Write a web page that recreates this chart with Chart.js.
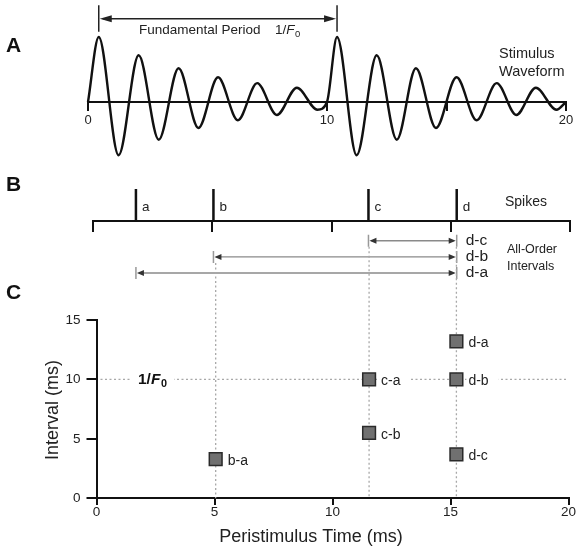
<!DOCTYPE html>
<html>
<head>
<meta charset="utf-8">
<script src="https://cdn.jsdelivr.net/npm/chart.js@4.4.1/dist/chart.umd.min.js"></script>
<style>
  body { margin:0; background:#fff; }
  #wrap { position:relative; width:579px; height:552px; }
  #wrap canvas { position:absolute; left:0; top:0; }
</style>
</head>
<body>
<div id="wrap">
  <canvas id="waveChart" width="579" height="552"></canvas>
  <canvas id="spikeChart" width="579" height="552"></canvas>
  <canvas id="intervalChart" width="579" height="552"></canvas>
</div>
<script>
'use strict';

// A: stimulus waveform, taken at its zero points, peaks and troughs
let waveTimes=[0,0.45,1.28,2.12,2.96,3.79,4.62,5.44,6.27,7.08,7.9,8.74,9.6,
               10,10.42,11.24,12.08,12.92,13.72,14.56,15.42,16.26,17.1,17.92,18.74,19.6,20];
let waveAmps=[0,1,-0.82,0.72,-0.58,0.52,-0.4,0.38,-0.28,0.29,-0.2,0.22,-0.12,
              0,1,-0.82,0.72,-0.58,0.52,-0.4,0.38,-0.28,0.29,-0.2,0.22,-0.12,0];
let waveTicks=[0,10,15,20];
let waveTickLabels=['0','10','','20'];
let periodStart=0.45;
let periodEnd=10.42;

// B: spike times (ms)
let spikeNames=['a','b','c','d'];
let spikeTimes=[1.8,5.05,11.55,15.25];
let intervalNames=['d-c','d-b','d-a'];
let intervalStart=['c','b','a'];
let intervalEnd=['d','d','d'];

// C: all-order intervals against peristimulus time
let pointNames=['b-a','c-a','c-b','d-a','d-b','d-c'];
let pointSpike=['b','c','c','d','d','d'];
let pointIntervals=[3.3,10,5.5,13.2,10,3.7];
let fundamentalPeriod=10;

let fontFamily="'Liberation Sans', Arial, Helvetica, sans-serif";
Chart.defaults.font.family=fontFamily;
Chart.defaults.color='#222';

function spikeTime(name)
{
    return spikeTimes[spikeNames.indexOf(name)];
}

function drawText(ctx,txt,x,y,size,opts)
{
    opts=opts||{};
    ctx.save();
    ctx.font=(opts.style||'normal')+' '+(opts.weight||'normal')+' '+size+'px '+fontFamily;
    ctx.fillStyle=opts.color||'#222';
    ctx.textAlign=opts.align||'left';
    ctx.textBaseline='middle';
    if(opts.rotate)
    {
        ctx.translate(x,y);
        ctx.rotate(opts.rotate);
        ctx.fillText(txt,0,0);
    }
    else
    {
        ctx.fillText(txt,x,y);
    }
    let w=ctx.measureText(txt).width;
    ctx.restore();
    return w;
}

// writes 1/F0 with italic F and subscript 0
function drawInverseF(ctx,x,y,size,weight,color)
{
    let w=drawText(ctx,'1/',x,y,size,{weight:weight,color:color});
    w+=drawText(ctx,'F',x+w,y,size,{weight:weight,style:'italic',color:color});
    w+=drawText(ctx,'0',x+w+0.5,y+size*0.32,size*0.7,{weight:weight,color:color});
    return w;
}

function arrowHead(ctx,x,y,dir,len,half)
{
    ctx.beginPath();
    ctx.moveTo(x,y);
    ctx.lineTo(x-dir*len,y-half);
    ctx.lineTo(x-dir*len,y+half);
    ctx.closePath();
    ctx.fill();
}

let commonOptions={
    responsive:false,
    animation:false,
    events:[],
    plugins:{legend:{display:false},tooltip:{enabled:false}}
};

// ---------- A ----------
let periodArrow={
    id:'periodArrow',
    afterDraw(chart)
    {
        let ctx=chart.ctx;
        let x=chart.scales.x;
        let y=chart.scales.y;
        let x1=x.getPixelForValue(periodStart);
        let x2=x.getPixelForValue(periodEnd);
        let yTop=y.getPixelForValue(1.49);
        let yBot=y.getPixelForValue(1.08);
        let yArr=y.getPixelForValue(1.28);
        ctx.save();
        ctx.strokeStyle='#222';
        ctx.fillStyle='#222';
        ctx.lineWidth=1.5;
        ctx.beginPath();
        ctx.moveTo(x1,yTop); ctx.lineTo(x1,yBot);
        ctx.moveTo(x2,yTop); ctx.lineTo(x2,yBot);
        ctx.moveTo(x1+4,yArr); ctx.lineTo(x2-4,yArr);
        ctx.stroke();
        arrowHead(ctx,x1+1,yArr,-1,12,3.5);
        arrowHead(ctx,x2-1,yArr,1,12,3.5);
        ctx.restore();

        drawText(ctx,'Fundamental Period',139,30,13.5);
        drawInverseF(ctx,275,30,13.5,'normal','#222');
        drawText(ctx,'Stimulus',499,54,14.5);
        drawText(ctx,'Waveform',499,72,14.5);
        drawText(ctx,'A',6,46,21,{weight:'bold',color:'#111'});
    }
};

let waveChart=new Chart(document.getElementById('waveChart'),{
    type:'line',
    data:{datasets:[{
        data:waveTimes.map((t,i)=>({x:t,y:waveAmps[i]})),
        borderColor:'#111',
        borderWidth:2.4,
        pointRadius:0,
        cubicInterpolationMode:'monotone',
        clip:false
    }]},
    options:Object.assign({},commonOptions,{
        layout:{padding:{left:88,right:13,top:37,bottom:385}},
        scales:{
            x:{
                type:'linear',min:0,max:20,position:{y:0},
                afterBuildTicks:(s)=>{s.ticks=waveTicks.map(v=>({value:v}));},
                border:{color:'#111',width:2},
                grid:{drawOnChartArea:false,color:'#111',lineWidth:2,tickLength:8},
                ticks:{autoSkip:false,maxRotation:0,padding:3,color:'#222',font:{size:13},
                    callback:(v)=>waveTickLabels[waveTicks.indexOf(v)]}
            },
            y:{min:-1,max:1,display:false}
        }
    }),
    plugins:[periodArrow]
});

// ---------- B ----------
let intervalRows=[-0.6,-1.1,-1.6];

let spikeMarks={
    id:'spikeMarks',
    afterDraw(chart)
    {
        let ctx=chart.ctx;
        let x=chart.scales.x;
        let y=chart.scales.y;
        let yLab=(y.getPixelForValue(0)+y.getPixelForValue(1))/2+2;
        spikeNames.forEach((n,i)=>{
            drawText(ctx,n,x.getPixelForValue(spikeTimes[i])+6,yLab,13.5);
        });

        ctx.save();
        for(let i=0;i<intervalNames.length;i++)
        {
            let x1=x.getPixelForValue(spikeTime(intervalStart[i]));
            let x2=x.getPixelForValue(spikeTime(intervalEnd[i]));
            let yr=y.getPixelForValue(intervalRows[i]);
            ctx.strokeStyle='#999';
            ctx.lineWidth=1.5;
            ctx.beginPath();
            ctx.moveTo(x1,yr-6); ctx.lineTo(x1,yr+6);
            ctx.moveTo(x2,yr-6); ctx.lineTo(x2,yr+6);
            ctx.stroke();
            ctx.strokeStyle='#8a8a8a';
            ctx.lineWidth=1.4;
            ctx.beginPath();
            ctx.moveTo(x1+3,yr); ctx.lineTo(x2-3,yr);
            ctx.stroke();
            ctx.fillStyle='#333';
            arrowHead(ctx,x1+1,yr,-1,7,3);
            arrowHead(ctx,x2-1,yr,1,7,3);
            drawText(ctx,intervalNames[i],x2+9,yr,15.5);
        }
        ctx.restore();

        drawText(ctx,'Spikes',505,202,14);
        drawText(ctx,'All-Order',507,250,12.5);
        drawText(ctx,'Intervals',507,267,12.5);
        drawText(ctx,'B',6,185,21,{weight:'bold',color:'#111'});
    }
};

let spikeData=[];
spikeTimes.forEach(t=>{
    spikeData.push({x:t,y:0},{x:t,y:1},{x:t,y:null});
});

let spikeChart=new Chart(document.getElementById('spikeChart'),{
    type:'line',
    data:{datasets:[{
        data:spikeData,
        borderColor:'#111',
        borderWidth:2.5,
        pointRadius:0,
        spanGaps:false,
        clip:false
    }]},
    options:Object.assign({},commonOptions,{
        layout:{padding:{left:93,right:9,top:189,bottom:266}},
        scales:{
            x:{
                type:'linear',min:0,max:20,position:{y:0},
                border:{color:'#111',width:2},
                grid:{drawOnChartArea:false,color:'#111',lineWidth:2,tickLength:10},
                ticks:{stepSize:5,autoSkip:false,callback:()=>''}
            },
            y:{min:-2,max:1,display:false}
        }
    }),
    plugins:[spikeMarks]
});

// ---------- C ----------
let guideLines={
    id:'guideLines',
    beforeDatasetsDraw(chart)
    {
        let ctx=chart.ctx;
        let x=chart.scales.x;
        let y=chart.scales.y;
        let by=spikeChart.scales.y;
        let y0=y.getPixelForValue(0);
        ctx.save();
        ctx.strokeStyle='#a8a8a8';
        ctx.lineWidth=1.3;
        ctx.setLineDash([2,2.5]);
        ctx.beginPath();
        // vertical guides from each interval start and end down to the axis
        ['b','c','d'].forEach(n=>{
            let rows=[];
            intervalNames.forEach((iv,i)=>{
                if(intervalStart[i]===n || intervalEnd[i]===n) rows.push(intervalRows[i]);
            });
            let top=by.getPixelForValue(Math.max(...rows))+6;
            let px=x.getPixelForValue(spikeTime(n));
            ctx.moveTo(px,top);
            ctx.lineTo(px,y0);
        });
        let yF=y.getPixelForValue(fundamentalPeriod);
        ctx.moveTo(x.getPixelForValue(0)+4,yF);
        ctx.lineTo(x.getPixelForValue(20),yF);
        ctx.stroke();
        ctx.restore();

        // label on the 1/F0 line, with a white gap behind it
        ctx.save();
        ctx.fillStyle='#fff';
        ctx.fillRect(131,yF-9,43,20);
        ctx.restore();
        drawInverseF(ctx,138,yF,15.5,'bold','#111');
    },
    afterDatasetsDraw(chart)
    {
        let ctx=chart.ctx;
        let x=chart.scales.x;
        let y=chart.scales.y;
        pointNames.forEach((n,i)=>{
            let px=x.getPixelForValue(spikeTime(pointSpike[i]))+12;
            let py=y.getPixelForValue(pointIntervals[i])+2;
            ctx.save();
            ctx.font='14px '+fontFamily;
            let w=ctx.measureText(n).width;
            ctx.fillStyle='#fff';
            ctx.fillRect(px-2,py-8,w+12,16);
            ctx.restore();
            drawText(ctx,n,px,py,14);
        });
        drawText(ctx,'Interval (ms)',53,410,18,{align:'center',rotate:-Math.PI/2});
        drawText(ctx,'Peristimulus Time (ms)',311,537,18,{align:'center'});
        drawText(ctx,'C',6,293,21,{weight:'bold',color:'#111'});
    }
};

let intervalChart=new Chart(document.getElementById('intervalChart'),{
    type:'scatter',
    data:{datasets:[{
        data:pointNames.map((n,i)=>({x:spikeTime(pointSpike[i]),y:pointIntervals[i]})),
        pointStyle:'rect',
        pointRadius:9,
        backgroundColor:'#707070',
        borderColor:'#2a2a2a',
        borderWidth:1.5,
        clip:false
    }]},
    options:Object.assign({},commonOptions,{
        layout:{padding:{left:56.5,right:10,top:320,bottom:53.7}},
        scales:{
            x:{
                type:'linear',min:0,max:20,position:{y:0},
                border:{color:'#111',width:2},
                grid:{drawOnChartArea:false,color:'#111',lineWidth:2,tickLength:6},
                ticks:{stepSize:5,autoSkip:false,maxRotation:0,padding:0,color:'#222',font:{size:13.5}}
            },
            y:{
                type:'linear',min:0,max:15,position:'left',
                afterFit:(s)=>{s.width=40;},
                border:{color:'#111',width:2},
                grid:{drawOnChartArea:false,color:'#111',lineWidth:2,tickLength:10},
                ticks:{stepSize:5,autoSkip:false,padding:6,color:'#222',font:{size:13.5}}
            }
        }
    }),
    plugins:[guideLines]
});
</script>
</body>
</html>
